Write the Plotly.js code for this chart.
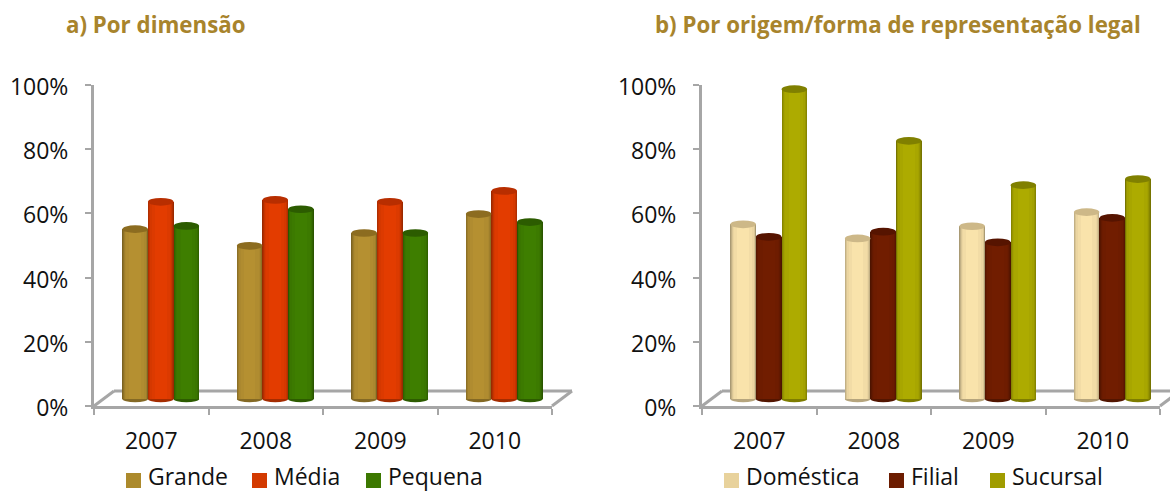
<!DOCTYPE html>
<html><head><meta charset="utf-8">
<script src="https://cdn.plot.ly/plotly-3.0.1.min.js"></script>
<style>html,body{margin:0;padding:0;background:#fff}#c{width:1170px;height:492px}</style>
</head><body><div id="c"></div>
<script>
const years = ['2007','2008','2009','2010'];
const seriesA = ['Grande','Média','Pequena'];
const grande = [55.1,49.9,53.9,59.8];
const media = [63.6,64.2,63.6,67.0];
const pequena = [56.1,61.3,53.9,57.3];
const seriesB = ['Doméstica','Filial','Sucursal'];
const domestica = [56.6,52.2,56.0,60.4];
const filial = [52.7,54.3,51.0,58.6];
const sucursal = [98.7,82.6,68.8,70.7];
const colorsA = ['#b08c30','#dc3a00','#3c7a00'];
const colorsB = ['#f2dca6','#6e1c00','#a8a600'];
const capsA = ['#8c6c20','#b82e00','#2c5c00'];
const capsB = ['#cdb888','#561400','#808000'];
const keyA = ['#ac8a2c','#d33a00','#3c7800'];
const keyB = ['#e8d29c','#6c1c00','#a09c00'];

const W=1170,H=492, topY=85, botY=406, L1=94, L2=702, span=458;
const px=x=>x/W, py=y=>1-y/H;
const unitPx=span/4, barW=25.6/unitPx, shift=9.5/unitPx;
const BASE=2.2;
// nested strips imitate the cylinder shading: [width fraction, brightness]
const strips=[[1,0.7],[0.96,0.8],[0.9,0.9],[0.82,0.97],[0.7,1.0],[0.45,1.03]];
function tint(hex,f){
  const n=parseInt(hex.slice(1),16);
  const c=[n>>16&255,n>>8&255,n&255].map(v=>Math.min(255,Math.round(v*f)));
  return `rgb(${c.join(',')})`;
}
const traces=[], shapes=[], notes=[];
function panel(names,vals,colors,caps,xr,yr,left){
  const dx=20,dy=15,rt=left+span;
  const ln={color:'#a6a6a6',width:3};
  [[left,botY,left+dx,botY-dy],[left+dx,botY-dy,rt+dx,botY-dy],[rt+dx,botY-dy,rt,botY]].forEach(s=>{
    shapes.push({type:'line',xref:'paper',yref:'paper',layer:'below',x0:px(s[0]),y0:py(s[1]),x1:px(s[2]),y1:py(s[3]),line:ln});
  });
  names.forEach((nm,i)=>{
    const xs=years.map((_,k)=>k+shift+(i-1)*barW);
    vals[i].forEach((v,k)=>{
      shapes.push({type:'circle',xref:xr,yref:yr,layer:'below',x0:xs[k]-barW/2,x1:xs[k]+barW/2,y0:BASE-1.0,y1:BASE+1.0,
        fillcolor:tint(colors[i],0.75),line:{width:0}});
      shapes.push({type:'circle',xref:xr,yref:yr,layer:'above',x0:xs[k]-barW/2,x1:xs[k]+barW/2,y0:v-1.2,y1:v+1.2,
        fillcolor:caps[i],line:{width:0}});
    });
    strips.forEach(s=>{
      traces.push({type:'bar',name:nm,x:xs,y:vals[i].map(v=>v-BASE),base:BASE,width:barW*s[0],
        xaxis:xr,yaxis:yr,marker:{color:tint(colors[i],s[1]),line:{width:0}},showlegend:false,hoverinfo:'skip'});
    });
  });
}
panel(seriesA,[grande,media,pequena],colorsA,capsA,'x','y',L1);
panel(seriesB,[domestica,filial,sucursal],colorsB,capsB,'x2','y2',L2);

const font={family:'"Open Sans",sans-serif',size:23,color:'#111'};
function key(names,colors,swatches){
  names.forEach((nm,i)=>{
    shapes.push({type:'rect',xref:'paper',yref:'paper',x0:px(swatches[i]),x1:px(swatches[i]+15),y0:py(488),y1:py(473),fillcolor:colors[i],line:{width:0}});
    notes.push({text:nm,xref:'paper',yref:'paper',x:px(swatches[i]+20),y:py(476),xanchor:'left',yanchor:'middle',showarrow:false,font});
  });
}
key(seriesA,keyA,[126,252,366]);
key(seriesB,keyB,[724,889,990]);

function xAxis(left,anchor){return {domain:[px(left),px(left+span)],range:[-0.5,3.5],anchor,tickmode:'array',tickvals:[0,1,2,3],ticktext:years,
  ticks:'',ticklabelstandoff:12,tickfont:font,showgrid:false,zeroline:false,showline:true,linecolor:'#a6a6a6',linewidth:3,
  minor:{tickmode:'array',tickvals:[-0.5,0.5,1.5,2.5,3.5],ticks:'outside',ticklen:6,tickcolor:'#a6a6a6',tickwidth:2,showgrid:false}};}
function yAxis(anchor){return {domain:[py(botY),py(topY)],range:[0,100],anchor,tickmode:'array',tickvals:[0,20,40,60,80,100],
  ticktext:['0%','20%','40%','60%','80%','100%'],ticks:'outside',ticklen:6,tickcolor:'#a6a6a6',tickwidth:2,ticklabelstandoff:12,ticklabelshift:2,
  tickfont:font,showgrid:false,zeroline:false,showline:true,linecolor:'#a6a6a6',linewidth:3};}
const titleFont={family:'"Open Sans",sans-serif',size:22.3,color:'#a8842c',weight:700};
notes.push({text:'<b>a) Por dimensão</b>',xref:'paper',yref:'paper',x:px(155.5),y:py(25),xanchor:'center',yanchor:'middle',showarrow:false,font:titleFont});
notes.push({text:'<b>b) Por origem/forma de representação legal</b>',xref:'paper',yref:'paper',x:px(898),y:py(25),xanchor:'center',yanchor:'middle',showarrow:false,font:titleFont});
const layout={width:W,height:H,margin:{l:0,r:0,t:0,b:0,autoexpand:false},paper_bgcolor:'#fff',plot_bgcolor:'rgba(0,0,0,0)',barmode:'overlay',bargap:0,showlegend:false,
  xaxis:xAxis(L1,'y'),yaxis:yAxis('x'),xaxis2:xAxis(L2,'y2'),yaxis2:yAxis('x2'),shapes,annotations:notes};
Plotly.newPlot('c',traces,layout,{displayModeBar:false,staticPlot:true});
</script></body></html>
